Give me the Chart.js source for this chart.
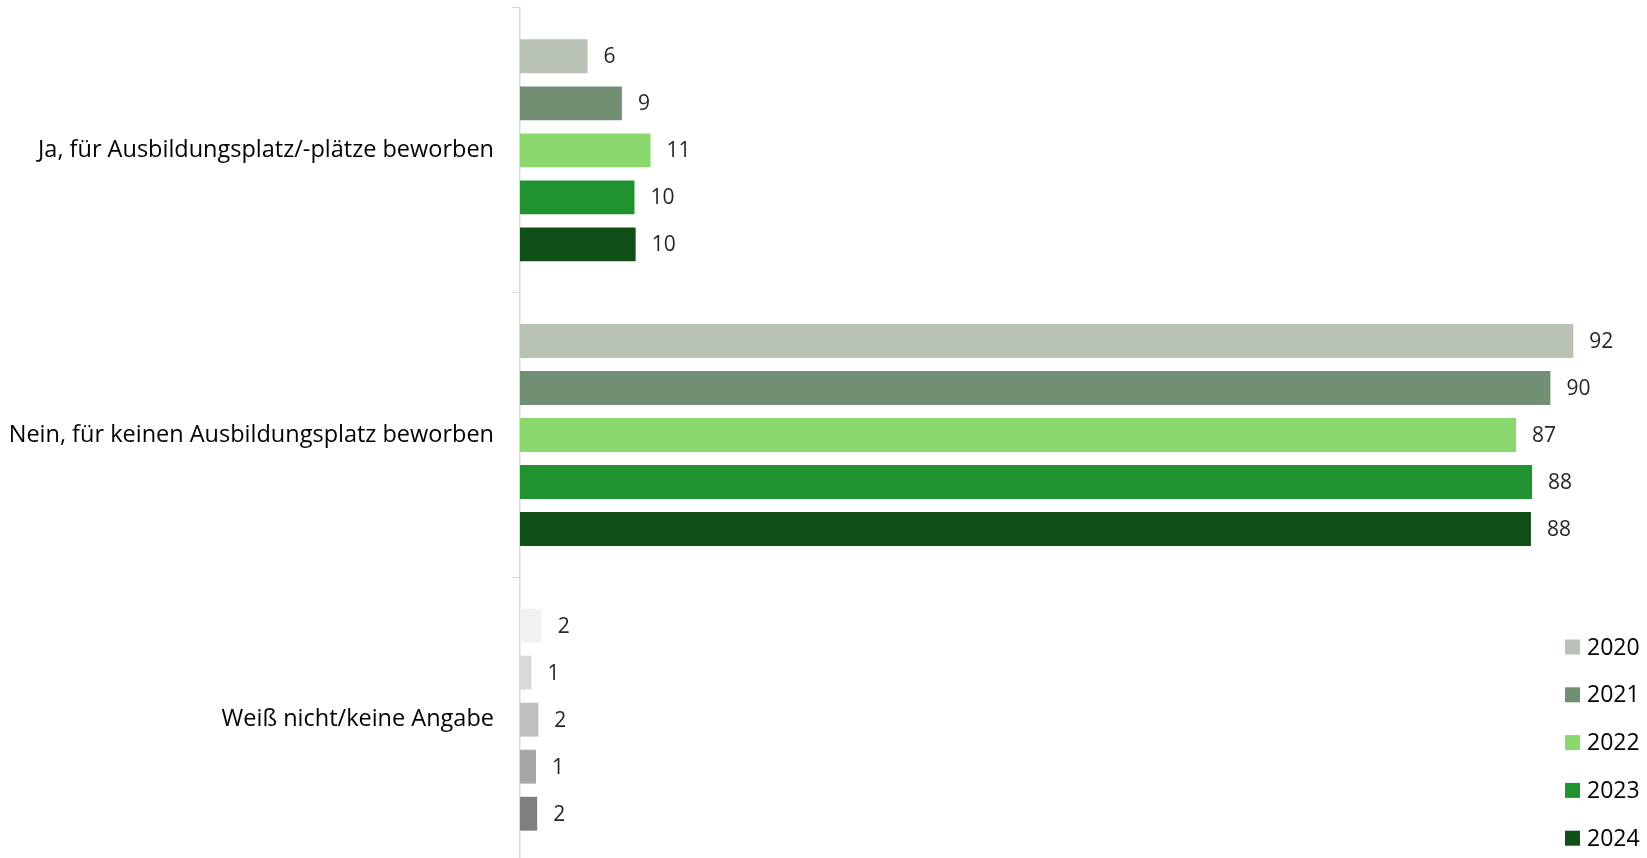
<!DOCTYPE html>
<html lang="de">
<head>
<meta charset="utf-8">
<title>Bewerbung um Ausbildungsplatz</title>
<script src="https://cdn.jsdelivr.net/npm/chart.js@4.4.1/dist/chart.umd.min.js"></script>
<style>
    html, body { margin: 0; padding: 0; background: #fff; overflow: hidden; }
    #caja { position: absolute; left: 0; top: 0; width: 1647px; height: 862px; }
</style>
</head>
<body>
<div id="caja"><canvas id="canvaBew"></canvas></div>
<script>
// Kategorien und Werte (Prozent), je Jahr eine Reihe
const kategorien = ['Ja, für Ausbildungsplatz/-plätze beworben', 'Nein, für keinen Ausbildungsplatz beworben', 'Weiß nicht/keine Angabe'];
const jahre = ['2020', '2021', '2022', '2023', '2024'];
const werte2020 = [5.9, 92.0, 1.9];
const werte2021 = [8.9, 90.0, 1.0];
const werte2022 = [11.4, 87.0, 1.6];
const werte2023 = [10.0, 88.4, 1.4];
const werte2024 = [10.1, 88.3, 1.5];

const gruen = ['#b8c3b6', '#728e73', '#8ad86e', '#209330', '#114f19'];
const grau = ['#f2f2f2', '#d9d9d9', '#bfbfbf', '#a6a6a6', '#7f7f7f'];
const reihen = [werte2020, werte2021, werte2022, werte2023, werte2024];

const schrift = "'Open Sans', 'Noto Sans', sans-serif";

// Zahlen rechts neben den Balken
const etiquetas = {
    id: 'etiquetas',
    afterDatasetsDraw(chart) {
        const ctx = chart.ctx;
        ctx.save();
        ctx.font = '21px ' + schrift;
        ctx.fillStyle = '#262626';
        ctx.textBaseline = 'middle';
        ctx.textAlign = 'left';
        chart.data.datasets.forEach((ds, i) => {
            chart.getDatasetMeta(i).data.forEach((bar, j) => {
                ctx.fillText(String(Math.round(ds.data[j])), bar.x + 16, bar.y + 1);
            });
        });
        ctx.restore();
    }
};

// Legende unten rechts
const leyenda = {
    id: 'leyenda',
    afterDraw(chart) {
        const ctx = chart.ctx;
        ctx.save();
        ctx.font = '23px ' + schrift;
        ctx.textBaseline = 'middle';
        ctx.textAlign = 'left';
        chart.data.datasets.forEach((ds, i) => {
            const y = 647 + i * 47.8;
            ctx.fillStyle = ds.backgroundColor[0];
            ctx.fillRect(1565, y - 7.5, 15, 15);
            ctx.fillStyle = '#000';
            ctx.fillText(ds.label, 1587, y + 1);
        });
        ctx.restore();
    }
};

const grafico = new Chart(document.getElementById('canvaBew').getContext('2d'), {
    type: 'bar',
    data: {
        labels: kategorien,
        datasets: jahre.map((j, i) => ({
            label: j,
            data: reihen[i],
            backgroundColor: [gruen[i], gruen[i], grau[i]],
            borderWidth: 0,
            categoryPercentage: 0.826,
            barPercentage: 0.72
        }))
    },
    options: {
        indexAxis: 'y',
        responsive: true,
        maintainAspectRatio: false,
        animation: false,
        layout: { padding: { top: 8, right: 5, bottom: 0, left: 0 } },
        scales: {
            x: {
                display: false,
                min: 0,
                max: 98
            },
            y: {
                afterFit(scale) {
                    scale.width = 520;
                    scale.paddingTop = 0;
                    scale.paddingBottom = 0;
                },
                grid: {
                    drawOnChartArea: false,
                    offset: true,
                    tickLength: 8,
                    color: '#d9d9d9'
                },
                border: { color: '#d9d9d9', width: 1.5 },
                ticks: {
                    padding: 18,
                    color: '#000',
                    font: { family: schrift, size: 23.5 }
                }
            }
        },
        plugins: {
            legend: { display: false },
            tooltip: { enabled: false }
        }
    },
    plugins: [etiquetas, leyenda]
});
</script>
</body>
</html>
